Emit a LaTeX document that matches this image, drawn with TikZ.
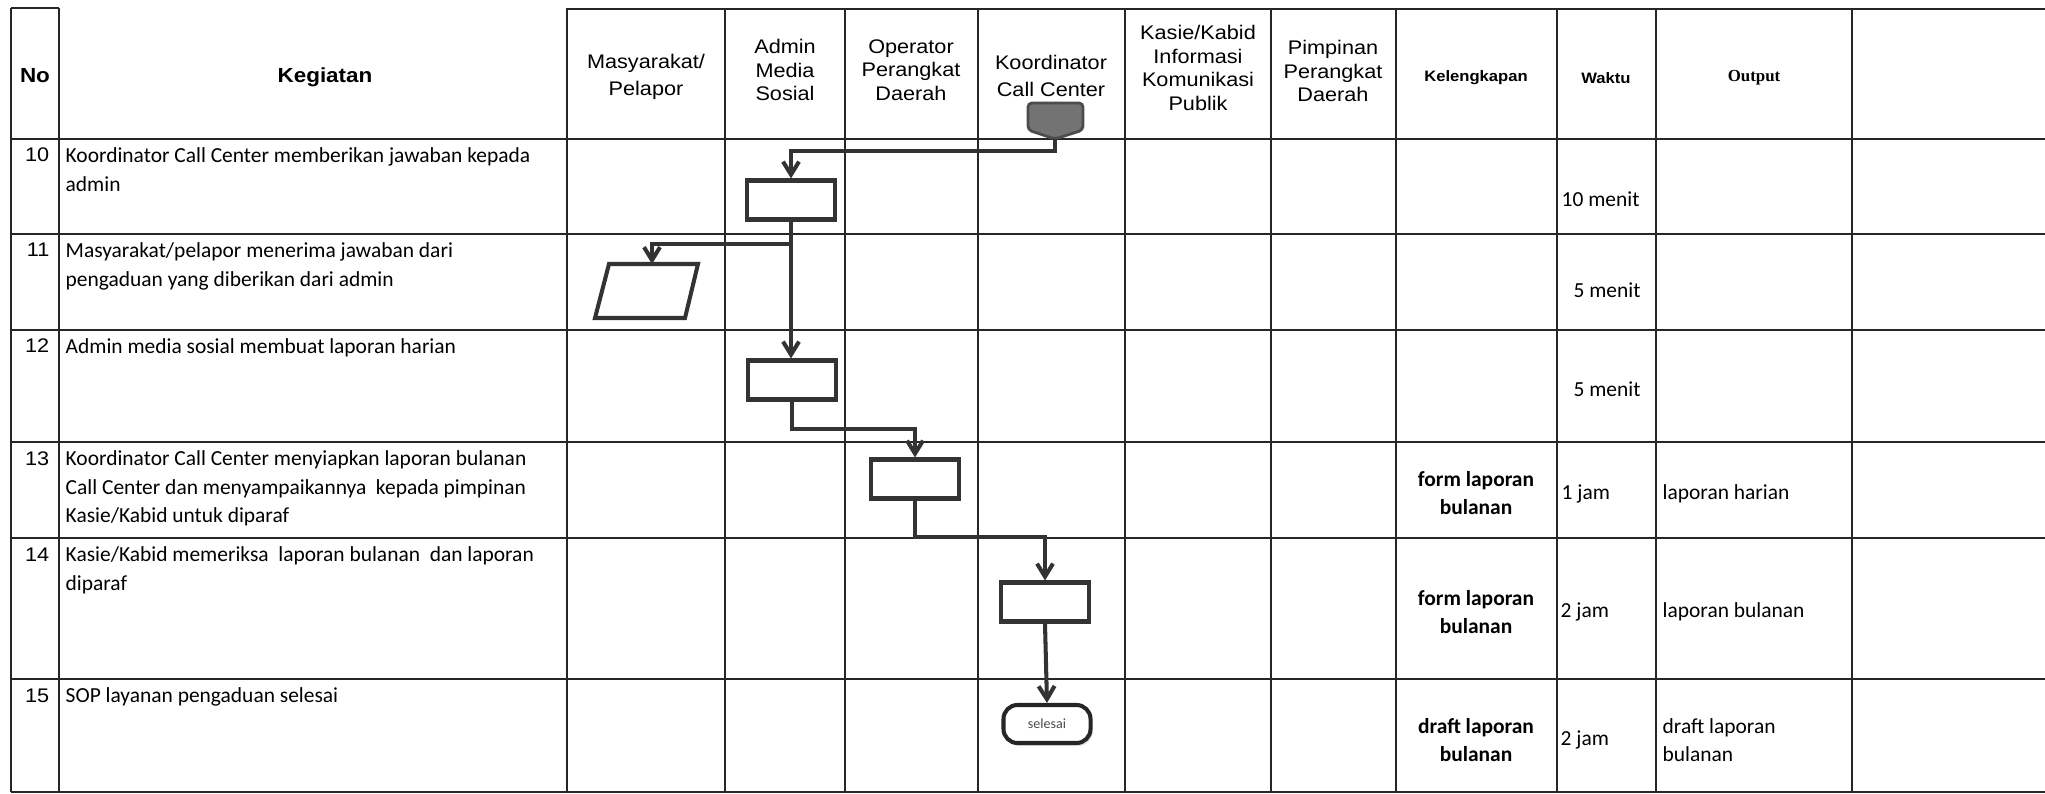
\documentclass[tikz,border=0pt]{standalone}
\usepackage{fontspec}
\setmainfont{Carlito}
\newfontfamily\arialfont[FakeStretch=1.1]{Liberation Sans}
\newfontfamily\timesfont{Liberation Serif}
\usetikzlibrary{arrows.meta,shadows}

\newcommand\txtfont{\fontsize{6.1}{8.1}\selectfont}
\newcommand\hdfont{\arialfont\fontsize{5.6}{6.7}\selectfont}
\newcommand\hdwide{\arialfont\fontsize{5.6}{7.7}\selectfont}
\newcommand\hdbold{\arialfont\bfseries\fontsize{5.8}{6.6}\selectfont}
\newcommand\kwfont{\arialfont\bfseries\fontsize{4.3}{5}\selectfont}
\newcommand\numfont{\arialfont\fontsize{5.6}{6}\selectfont}

\tikzset{
  tabline/.style={line width=0.7pt, draw=black!85},
  flow/.style={line width=1.15pt, draw=black!80, -{Straight Barb[length=1.3mm,width=1.6mm]}},
  proc/.style={draw=black!80, line width=1.15pt, fill=white, minimum width=0.88cm, minimum height=0.39cm, inner sep=0pt},
  term/.style={draw=black!85, line width=1.15pt, fill=white, rounded corners=0.14cm, minimum width=0.87cm,
    minimum height=0.38cm, inner sep=0pt, font=\fontsize{4}{4}\selectfont\color{black!70},
    drop shadow={opacity=0.25, shadow xshift=0.02cm, shadow yshift=-0.03cm}},
  head/.style={align=center, font=\hdfont, inner sep=0pt},
  headtwo/.style={align=center, font=\hdwide, inner sep=0pt},
  cell/.style={align=left, font=\txtfont, inner sep=0pt},
}

\begin{document}
\begin{tikzpicture}[x=0.01cm, y=-0.01cm]
    \useasboundingbox (0,0) rectangle (2045,794);
    % table
    \draw[tabline] (11,8) -- (59,8);
    \draw[tabline] (567,9) -- (2045,9);
    \foreach \y in {139,234,330,442,538,679,792} {
      \draw[tabline] (11,\y) -- (2045,\y);
    };
    \foreach \x in {11,59,567} {
      \draw[tabline] (\x,8) -- (\x,792);
    };
    \foreach \x in {725,845,978,1125,1271,1396,1557,1656,1852} {
      \draw[tabline] (\x,9) -- (\x,792);
    };

    % header
    \node[font=\hdbold, inner sep=0pt] (hNo) at (35,76) {No};
    \node[font=\hdbold, inner sep=0pt] (hKeg) at (325,77) {Kegiatan};
    \node[headtwo] (hMas) at (646,77) {Masyarakat/\\Pelapor};
    \node[head] (hAdm) at (785,70) {Admin\\Media\\Sosial};
    \node[head] (hOpd) at (911,70) {Operator\\Perangkat\\Daerah};
    \node[headtwo] (hKor) at (1051,76) {Koordinator\\Call Center};
    \node[head] (hKas) at (1198,68) {Kasie/Kabid\\Informasi\\Komunikasi\\Publik};
    \node[head] (hPim) at (1333,71) {Pimpinan\\Perangkat\\Daerah};
    \node[font=\kwfont, inner sep=0pt] (hKel) at (1476,78) {Kelengkapan};
    \node[font=\kwfont, inner sep=0pt] (hWkt) at (1606,78) {Waktu};
    \node[font=\timesfont\bfseries\fontsize{4.8}{5.5}\selectfont, inner sep=0pt] (hOut) at (1754,78) {Output};

    % nomor
    \foreach \n/\y in {10/139,11/234,12/330,13/442,14/538,15/679} {
      \node[font=\numfont, anchor=base east, inner sep=0pt] (no\n) at (50,\y+23) {\n};
    };

    % kegiatan
    \node[cell, anchor=north west] (k10) at (65,147) {Koordinator Call Center memberikan jawaban kepada\\admin};
    \node[cell, anchor=north west] (k11) at (65,242) {Masyarakat/pelapor menerima jawaban dari\\pengaduan yang diberikan dari admin};
    \node[cell, anchor=north west] (k12) at (65,338) {Admin media sosial membuat laporan harian};
    \node[cell, anchor=north west] (k13) at (65,450) {Koordinator Call Center menyiapkan laporan bulanan\\Call Center dan menyampaikannya\ \ kepada pimpinan\\Kasie/Kabid untuk diparaf};
    \node[cell, anchor=north west] (k14) at (65,546) {Kasie/Kabid memeriksa\ \ laporan bulanan\ \ dan laporan\\diparaf};
    \node[cell, anchor=north west] (k15) at (65,687) {SOP layanan pengaduan selesai};

    % kelengkapan, waktu, output
    \node[cell, align=center, font=\txtfont\bfseries] (kl13) at (1476,493) {form laporan\\bulanan};
    \node[cell, align=center, font=\txtfont\bfseries] (kl14) at (1476,612) {form laporan\\bulanan};
    \node[cell, align=center, font=\txtfont\bfseries] (kl15) at (1476,740) {draft laporan\\bulanan};
    \node[cell, anchor=west] (w10) at (1561,199) {10 menit};
    \node[cell] (w11) at (1607,290) {5 menit};
    \node[cell] (w12) at (1607,389) {5 menit};
    \node[cell, anchor=west] (w13) at (1561,494) {1 jam};
    \node[cell, anchor=west] (w14) at (1560,612) {2 jam};
    \node[cell, anchor=west] (w15) at (1560,740) {2 jam};
    \node[cell, anchor=west] (o13) at (1662,494) {laporan harian};
    \node[cell, anchor=west] (o14) at (1662,612) {laporan bulanan};
    \node[cell, anchor=west] (o15) at (1662,740) {draft laporan\\bulanan};

    % bagan alir
    \filldraw[fill=black!55, draw=black!70, line width=0.8pt, rounded corners=0.04cm]
      (1055,139) -- (1028,130) -- (1028,103) -- (1083,103) -- (1083,130) -- cycle;
    \coordinate (opc) at (1055,139);
    \draw[draw=black!80, line width=1.15pt] (609,264) -- (698,264) -- (685,318) -- (595,318) -- cycle;
    \coordinate (lapor) at (652,264);
    \node[proc] (b1) at (791,200) {};
    \node[proc] (b2) at (792,380) {};
    \node[proc] (b3) at (915,479) {};
    \node[proc] (b4) at (1045,602) {};
    \node[term] (fin) at (1047,724) {selesai};
    \coordinate (split) at (791,244);

    \draw[flow] (opc) -- ++(0,12) -| (b1.north);
    \draw[flow] (split) -| (lapor);
    \draw[flow] (b1.south) -- (b1.south |- b2.north);
    \draw[flow] (b2.south) -- ++(0,27) -| (b3.north);
    \draw[flow] (b3.south) -- ++(0,36) -| (b4.north);
    \draw[flow] (b4.south) -- (fin.north);
\end{tikzpicture}
\end{document}
